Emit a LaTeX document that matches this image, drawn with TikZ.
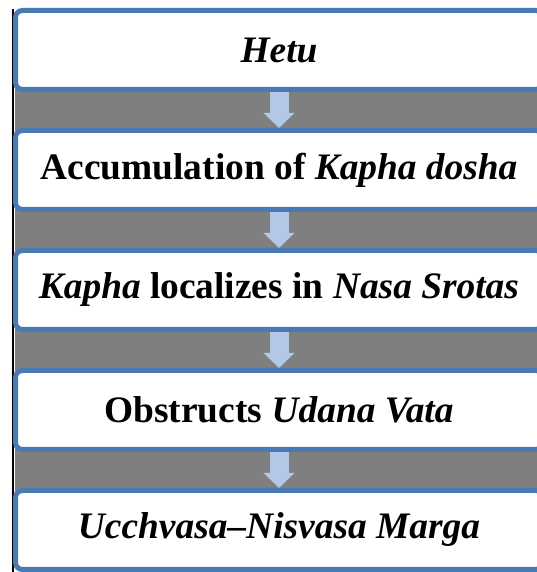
\documentclass[tikz,border=0pt]{standalone}
\usepackage{fontspec}
\setmainfont{Liberation Serif}
\usetikzlibrary{arrows.meta}
\definecolor{boxblue}{RGB}{74,122,180}
\definecolor{arrowblue}{RGB}{180,199,231}
\definecolor{bandgray}{RGB}{127,127,127}
\begin{document}
\begin{tikzpicture}[x=1pt,y=1pt,
    stage/.style={draw=boxblue,line width=5pt,fill=white,rounded corners=7pt,
      minimum width=527pt,minimum height=79pt,inner sep=0pt,
      font=\fontsize{37.4}{44}\selectfont\bfseries},
    flow/.style={arrowblue,line width=19pt,-{Triangle[width=30pt,length=15pt]}}]
  \useasboundingbox (0,0) rectangle (537,572);
  \draw[line width=2pt] (12.5,563) -- (12.5,0);
  \fill[bandgray] (15,522) rectangle (545,42);
  \draw
    (279,522) node[stage] (hetu){\textit{Hetu}}
    (279,402) node[stage] (accum){Accumulation of \textit{Kapha dosha}}
    (279,282) node[stage] (local){\textit{Kapha} localizes in \textit{Nasa Srotas}}
    (279,162) node[stage] (udana){Obstructs \textit{Udana Vata}}
    (279,42) node[stage] (marga){\textit{Ucchvasa--Nisvasa Marga}};
  \begin{scope}[flow]
    \draw (hetu) -- (accum);
    \draw (accum) -- (local);
    \draw (local) -- (udana);
    \draw (udana) -- (marga);
  \end{scope}
\end{tikzpicture}
\end{document}
